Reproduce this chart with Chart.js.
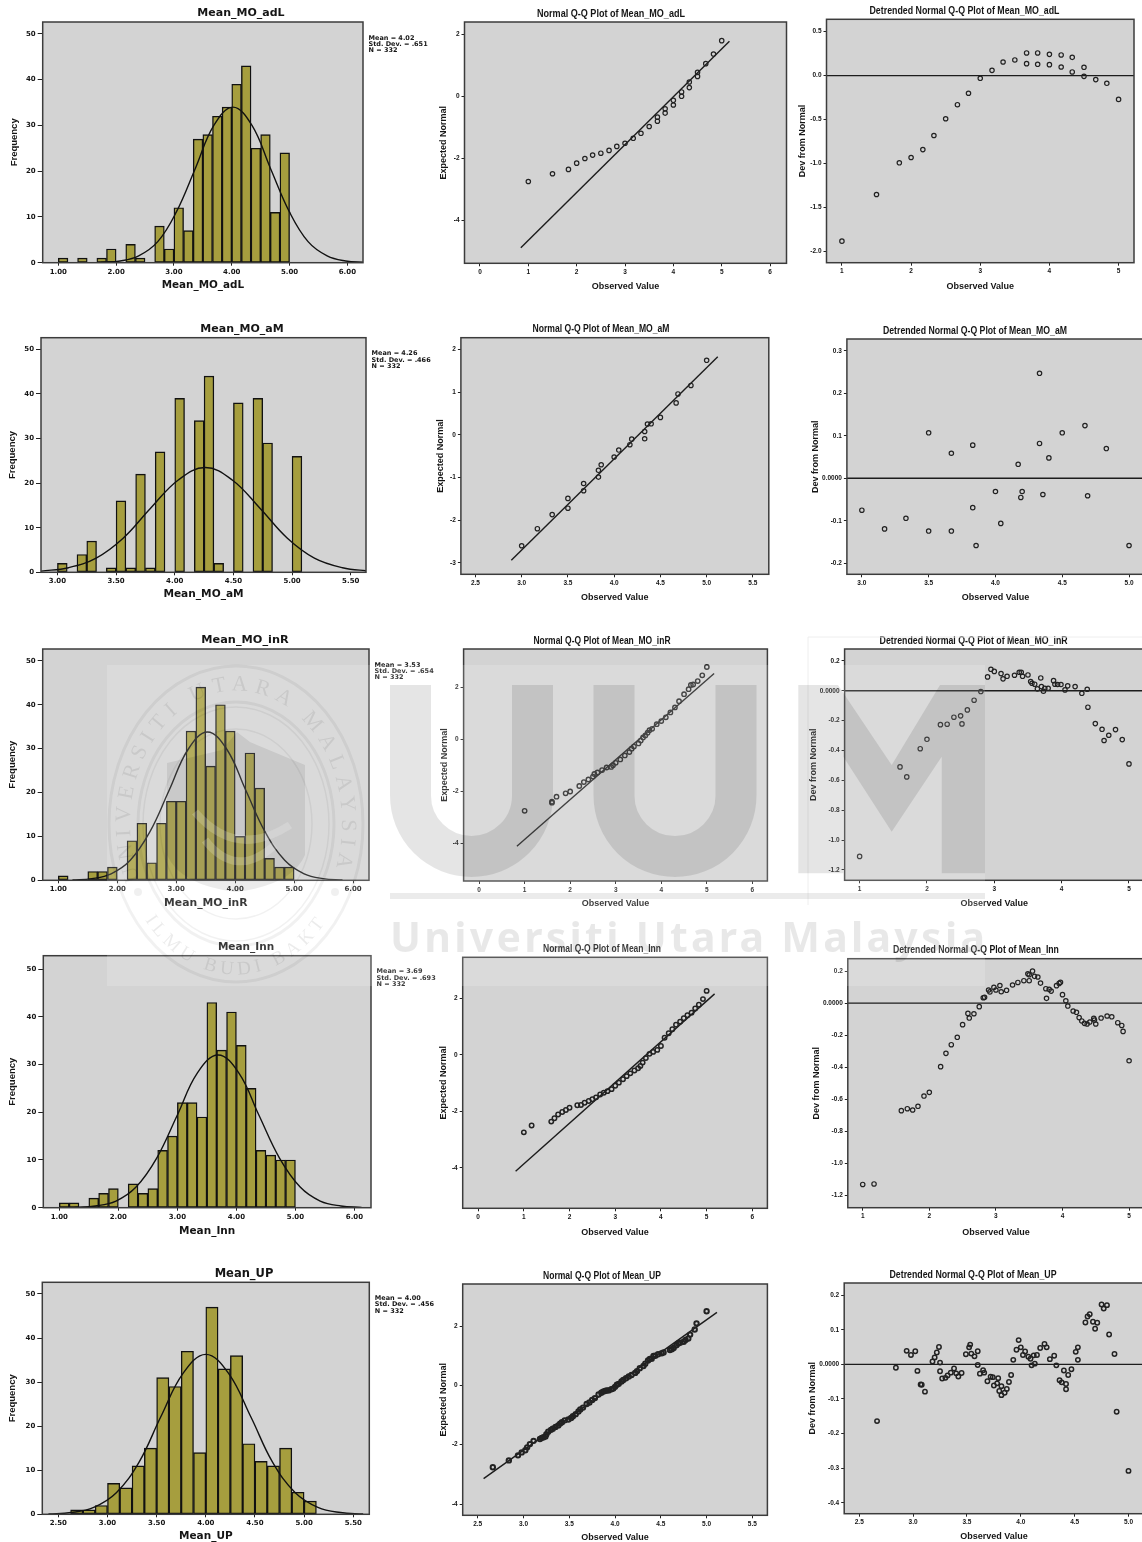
<!DOCTYPE html>
<html>
<head>
<meta charset="utf-8">
<title>Normality plots</title>
<script src="https://cdn.jsdelivr.net/npm/chart.js@4"></script>
<style>
html, body { margin: 0; padding: 0; background: #fff; overflow: hidden; }
#page { position: relative; width: 1142px; height: 1542px; overflow: hidden; }
#page canvas { position: absolute; filter: blur(0.5px); }
#mark { position: absolute; left: 0; top: 0; pointer-events: none; }
</style>
</head>
<body>
<div id="page">
<svg id="mark" width="1142" height="1542" xmlns="http://www.w3.org/2000/svg">
  <rect x="107" y="665" width="878" height="321" fill="rgba(255,255,255,0.16)"/>
  <path d="M808 905V637H1142" fill="none" stroke="#eee" stroke-width="1"/>
  <g fill="none" stroke="rgba(0,0,0,0.055)">
    <ellipse cx="236" cy="824" rx="127" ry="158" stroke-width="3"/>
    <ellipse cx="236" cy="824" rx="98" ry="122" stroke-width="3"/>
    <ellipse cx="236" cy="824" rx="93" ry="117" stroke-width="1.5"/>
    <ellipse cx="236" cy="824" rx="76" ry="95" stroke-width="1.5"/>
  </g>
  <circle cx="138" cy="892" r="4" fill="rgba(0,0,0,0.06)"/>
  <circle cx="335" cy="892" r="4" fill="rgba(0,0,0,0.06)"/>
  <path d="M167 763L222 750L237 732L250 742L305 765V855Q292 885 236 892Q180 885 167 855Z" fill="rgba(0,0,0,0.08)"/>
  <path d="M195 812Q236 860 290 825M205 840Q236 880 275 845" fill="none" stroke="rgba(255,255,255,0.18)" stroke-width="8"/>
  <defs>
    <path id="sealTop" d="M140 880A106 133 0 1 1 332 880"/>
    <path id="sealBottom" d="M145 920A118 150 0 0 0 327 920"/>
  </defs>
  <text font-family="Liberation Serif" font-size="22" fill="rgba(0,0,0,0.08)">
    <textPath href="#sealTop" textLength="478" lengthAdjust="spacing">UNIVERSITI UTARA MALAYSIA</textPath>
  </text>
  <text font-family="Liberation Serif" font-size="19" fill="rgba(0,0,0,0.08)">
    <textPath href="#sealBottom" textLength="228" lengthAdjust="spacing">ILMU BUDI BAKTI</textPath>
  </text>
  <g fill="none" stroke="rgba(0,0,0,0.1)" stroke-width="41">
    <path d="M410.5 685V795.5A61 61 0 0 0 532.5 795.5V685"/>
    <path d="M614 685V795.5A61 61 0 0 0 736 795.5V685"/>
  </g>
  <path d="M798.3 685H838L891.7 765L940 685H985V873.3H941.7V756.7L891.7 831.7L843.3 756.7V873.3H798.3Z" fill="rgba(0,0,0,0.1)"/>
  <rect x="390" y="893" width="595" height="6" fill="rgba(0,0,0,0.08)"/>
  <text x="390" y="952" font-family="Noto Sans" font-weight="700" font-size="41" textLength="595" lengthAdjust="spacing" fill="rgba(0,0,0,0.09)">Universiti Utara Malaysia</text>
</svg>
</div>
<script>
// bin centres and counts
const sixthBins = [1.0833,1.25,1.4167,1.5833,1.75,1.9167,2.0833,2.25,2.4167,2.5833,2.75,2.9167,3.0833,3.25,3.4167,3.5833,3.75,3.9167,4.0833,4.25,4.4167,4.5833,4.75,4.9167];
const amBins = [3.0417,3.125,3.2083,3.2917,3.375,3.4583,3.5417,3.625,3.7083,3.7917,3.875,3.9583,4.0417,4.125,4.2083,4.2917,4.375,4.4583,4.5417,4.625,4.7083,4.7917,4.875,4.9583,5.0417];
const upBins = [2.6875,2.8125,2.9375,3.0625,3.1875,3.3125,3.4375,3.5625,3.6875,3.8125,3.9375,4.0625,4.1875,4.3125,4.4375,4.5625,4.6875,4.8125,4.9375,5.0625];

const adlCounts = [1,0,1,0,1,3,0,4,1,0,8,3,12,7,27,28,32,34,39,43,25,28,11,24];
const amCounts = [2,0,4,7,0,1,16,1,22,1,27,0,39,0,34,44,2,0,38,0,39,29,0,0,26];
const inrCounts = [1,0,0,2,2,3,0,9,13,4,13,18,18,34,44,26,40,34,10,29,21,5,3,3];
const innCounts = [1,1,0,2,3,4,0,5,3,4,12,15,22,22,19,43,33,41,34,25,12,11,10,10];
const upCounts = [1,1,2,7,6,11,15,31,29,37,14,47,33,36,16,12,11,15,5,3];

// fitted curves, read at spaced points
const adlCurveX = [1.74,2.07,2.39,2.72,3.04,3.37,3.69,4.02,4.35,4.67,5.0,5.32,5.65,5.97,6.3];
const adlCurveY = [0.07,0.38,1.49,4.6,11.04,20.6,30,34,30,20.6,11.04,4.6,1.49,0.38,0.07];
const amCurveX = [2.86,3.095,3.33,3.56,3.79,4.03,4.26,4.49,4.73,4.96,5.19,5.43,5.66];
const amCurveY = [0.26,1.03,3.18,7.64,14.25,20.7,23.5,20.7,14.25,7.64,3.18,1.03,0.26];
const inrCurveX = [1.24,1.57,1.895,2.22,2.55,2.88,3.2,3.53,3.86,4.18,4.51,4.84,5.17,5.49,5.82];
const inrCurveY = [0.07,0.38,1.48,4.57,10.97,20.5,29.8,33.8,29.8,20.5,10.97,4.57,1.48,0.38,0.07];
const innCurveX = [1.26,1.61,1.96,2.3,2.65,3.0,3.34,3.69,4.04,4.38,4.73,5.08,5.42,5.77,6.12];
const innCurveY = [0.07,0.36,1.4,4.33,10.39,19.41,28.24,32,28.24,19.41,10.39,4.33,1.4,0.36,0.07];
const upCurveX = [2.4,2.63,2.86,3.09,3.32,3.54,3.77,4,4.23,4.46,4.68,4.91,5.14,5.37,5.6];
const upCurveY = [0.08,0.4,1.59,4.91,11.79,22.02,32.03,36.3,32.03,22.02,11.79,4.91,1.59,0.4,0.08];

// normal Q-Q points and reference lines
const adlQqX = [1,1.5,1.83,2,2.17,2.33,2.5,2.67,2.83,3,3.17,3.33,3.5,3.67,3.67,3.83,3.83,4,4,4.17,4.17,4.33,4.33,4.5,4.5,4.67,4.83,5];
const adlQqY = [-2.74,-2.49,-2.35,-2.15,-2,-1.89,-1.83,-1.74,-1.61,-1.51,-1.35,-1.19,-0.97,-0.67,-0.8,-0.4,-0.54,-0.13,-0.28,0.14,0,0.46,0.28,0.77,0.64,1.05,1.36,1.79];
const adlLineX = [0.845,5.16];
const adlLineY = [-4.87,1.77];

const amQqX = [3,3.17,3.33,3.5,3.5,3.67,3.67,3.83,3.83,3.86,4,4.05,4.17,4.19,4.33,4.33,4.36,4.4,4.5,4.67,4.69,4.83,5];
const amQqY = [-2.6,-2.2,-1.87,-1.72,-1.49,-1.31,-1.14,-0.99,-0.83,-0.7,-0.52,-0.355,-0.23,-0.1,-0.09,0.08,0.255,0.26,0.41,0.75,0.96,1.16,1.75];
const amLineX = [2.888,5.12];
const amLineY = [-2.94,1.835];

const inrQqX = [1,1.6,1.6,1.7,1.9,2,2.2,2.3,2.4,2.5,2.53,2.6,2.7,2.8,2.9,2.94,3,3.1,3.2,3.3,3.35,3.4,3.5,3.55,3.6,3.65,3.7,3.74,3.8,3.9,4,4.1,4.2,4.3,4.39,4.5,4.6,4.65,4.7,4.8,4.9,5];
const inrQqY = [-2.74,-2.43,-2.39,-2.2,-2.07,-2,-1.79,-1.64,-1.54,-1.43,-1.33,-1.27,-1.18,-1.08,-1.06,-0.99,-0.9,-0.77,-0.62,-0.49,-0.36,-0.28,-0.16,-0.05,0.07,0.15,0.25,0.35,0.4,0.58,0.7,0.84,1.03,1.22,1.46,1.73,1.92,2.08,2.1,2.23,2.45,2.77];
const inrLineX = [0.83,5.16];
const inrLineY = [-4.1,2.52];

const innQqX = [1,1.17,1.6,1.67,1.75,1.84,1.92,2,2.17,2.25,2.33,2.42,2.5,2.58,2.67,2.75,2.83,2.92,3,3.08,3.17,3.25,3.33,3.42,3.5,3.55,3.6,3.67,3.75,3.83,3.92,4,4.08,4.17,4.25,4.33,4.42,4.5,4.58,4.67,4.75,4.83,4.92,5];
const innQqY = [-2.74,-2.5,-2.36,-2.24,-2.11,-2.02,-1.95,-1.87,-1.78,-1.77,-1.69,-1.63,-1.57,-1.5,-1.4,-1.34,-1.28,-1.21,-1.09,-0.98,-0.86,-0.75,-0.65,-0.55,-0.47,-0.39,-0.27,-0.11,0.04,0.11,0.18,0.32,0.61,0.77,0.91,1.07,1.18,1.3,1.41,1.5,1.65,1.78,1.98,2.27];
const innLineX = [0.82,5.175];
const innLineY = [-4.12,2.165];

const upQqX = [2.665,2.84,2.94,2.98,3.02,3.04,3.07,3.11,3.18,3.2,3.22,3.24,3.25,3.27,3.3,3.32,3.35,3.38,3.4,3.42,3.45,3.49,3.52,3.54,3.57,3.6,3.62,3.65,3.69,3.72,3.75,3.78,3.82,3.85,3.87,3.89,3.91,3.93,3.96,3.98,4,4.02,4.04,4.07,4.09,4.12,4.15,4.18,4.22,4.24,4.27,4.31,4.33,4.36,4.38,4.4,4.42,4.44,4.47,4.51,4.53,4.6,4.62,4.64,4.67,4.69,4.71,4.75,4.77,4.8,4.82,4.87,4.89,5];
const upQqY = [-2.76,-2.53,-2.36,-2.26,-2.19,-2.09,-1.98,-1.87,-1.81,-1.77,-1.75,-1.72,-1.65,-1.56,-1.5,-1.46,-1.4,-1.35,-1.29,-1.24,-1.18,-1.15,-1.1,-1.04,-0.97,-0.88,-0.81,-0.75,-0.63,-0.58,-0.49,-0.43,-0.31,-0.25,-0.21,-0.19,-0.17,-0.17,-0.13,-0.11,-0.05,0.02,0.05,0.13,0.18,0.24,0.3,0.35,0.42,0.48,0.58,0.65,0.73,0.84,0.89,0.9,0.99,1,1.05,1.08,1.11,1.19,1.22,1.26,1.35,1.41,1.44,1.47,1.53,1.58,1.71,1.88,2.09,2.5];
const upLineX = [2.564,5.113];
const upLineY = [-3.146,2.46];

// detrended Q-Q points
const adlDtX = [1,1.5,1.83,2,2.17,2.33,2.5,2.67,2.83,3,3.17,3.33,3.5,3.67,3.67,3.83,3.83,4,4,4.17,4.17,4.33,4.33,4.5,4.5,4.67,4.83,5];
const adlDtY = [-1.88,-1.35,-0.99,-0.93,-0.84,-0.68,-0.49,-0.33,-0.2,-0.03,0.06,0.155,0.178,0.258,0.136,0.258,0.129,0.242,0.125,0.235,0.098,0.208,0.042,0.095,-0.008,-0.045,-0.087,-0.27];

const amDtX = [3,3.17,3.33,3.5,3.5,3.67,3.67,3.83,3.83,3.855,4,4.04,4.17,4.19,4.2,4.33,4.33,4.355,4.4,4.5,4.67,4.69,4.83,5];
const amDtY = [-0.075,-0.119,-0.094,-0.124,0.107,-0.124,0.059,-0.069,0.078,-0.158,-0.031,-0.106,0.033,-0.045,-0.031,0.082,0.247,-0.038,0.048,0.107,0.124,-0.041,0.07,-0.158];

const inrDtX = [1,1.6,1.7,1.9,2,2.2,2.3,2.4,2.5,2.52,2.6,2.7,2.8,2.9,2.95,3,3.1,3.13,3.19,3.3,3.37,3.4,3.42,3.5,3.54,3.56,3.6,3.64,3.69,3.7,3.73,3.75,3.8,3.88,3.9,3.94,3.99,4.05,4.09,4.2,4.3,4.38,4.39,4.5,4.6,4.63,4.7,4.8,4.9,5];
const inrDtY = [-1.11,-0.51,-0.577,-0.388,-0.325,-0.227,-0.224,-0.177,-0.168,-0.222,-0.128,-0.063,-0.005,0.093,0.144,0.13,0.115,0.08,0.097,0.104,0.124,0.124,0.097,0.106,0.062,0.05,0.044,0.013,0.086,0.028,-0.003,0.017,0.017,0.068,0.044,0.042,0.042,0.006,0.033,0.028,-0.017,0.01,-0.11,-0.22,-0.258,-0.333,-0.298,-0.26,-0.327,-0.49];

const innDtX = [1,1.17,1.58,1.67,1.75,1.83,1.92,2,2.17,2.25,2.33,2.42,2.5,2.58,2.6,2.67,2.75,2.81,2.83,2.89,2.91,2.97,3,3.06,3.08,3.16,3.25,3.33,3.42,3.5,3.48,3.55,3.5,3.58,3.63,3.67,3.75,3.76,3.8,3.83,3.91,3.95,3.97,4,4.05,4.08,4.16,4.21,4.25,4.29,4.33,4.37,4.41,4.47,4.48,4.5,4.58,4.67,4.74,4.83,4.89,4.91,5];
const innDtY = [-1.13,-1.127,-0.67,-0.658,-0.666,-0.643,-0.579,-0.556,-0.396,-0.313,-0.259,-0.213,-0.134,-0.064,-0.093,-0.066,-0.022,0.034,0.036,0.082,0.07,0.098,0.082,0.11,0.071,0.08,0.113,0.129,0.14,0.14,0.183,0.2,0.177,0.167,0.163,0.125,0.09,0.03,0.086,0.075,0.109,0.123,0.13,0.053,0.015,-0.018,-0.049,-0.057,-0.09,-0.111,-0.126,-0.13,-0.118,-0.095,-0.105,-0.13,-0.093,-0.08,-0.085,-0.122,-0.139,-0.176,-0.359];

const upDtX = [2.665,2.84,2.94,2.98,3.02,3.04,3.07,3.08,3.11,3.18,3.2,3.22,3.24,3.25,3.25,3.27,3.3,3.32,3.35,3.38,3.4,3.42,3.45,3.49,3.52,3.53,3.54,3.57,3.6,3.6,3.62,3.65,3.66,3.69,3.72,3.74,3.75,3.78,3.79,3.8,3.82,3.82,3.85,3.87,3.89,3.91,3.93,3.96,3.98,4,4.02,4.04,4.07,4.09,4.1,4.12,4.13,4.15,4.18,4.22,4.24,4.27,4.31,4.33,4.36,4.38,4.4,4.42,4.42,4.44,4.47,4.51,4.53,4.53,4.6,4.62,4.64,4.67,4.69,4.71,4.75,4.77,4.8,4.82,4.87,4.89,5];
const upDtY = [-0.164,-0.01,0.039,0.027,0.038,-0.019,-0.058,-0.059,-0.079,0.008,0.02,0.034,0.05,0.005,-0.02,-0.041,-0.039,-0.032,-0.024,-0.012,-0.026,-0.035,-0.025,0.029,0.049,0.057,0.031,0.023,0.038,-0.002,-0.027,-0.017,-0.024,-0.049,-0.036,-0.037,-0.061,-0.055,-0.04,-0.077,-0.089,-0.063,-0.082,-0.071,-0.051,-0.031,0.013,0.042,0.07,0.049,0.027,0.037,0.022,0.016,-0.003,0.026,0.002,0.027,0.047,0.059,0.049,0.015,0.025,-0.003,-0.046,-0.052,-0.018,-0.072,-0.057,-0.031,-0.014,0.036,0.049,0.013,0.121,0.138,0.145,0.123,0.103,0.12,0.173,0.161,0.171,0.086,0.03,-0.137,-0.308];

// tick labels
const freqTicks = [0,10,20,30,40,50];
const oneToSix = [1,2,3,4,5,6];
const halfTicks = [3,3.5,4,4.5,5,5.5];
const upHistTicks = [2.5,3,3.5,4,4.5,5,5.5];
const zeroToSix = [0,1,2,3,4,5,6];
const halfQqTicks = [2.5,3,3.5,4,4.5,5,5.5];
const oneToFive = [1,2,3,4,5];
const amDtXTicks = [3,3.5,4,4.5,5];
const upDtXTicks = [2.5,3,3.5,4,4.5,5];

const WIDE = 'DejaVu Sans';
const PLAIN = 'Liberation Sans';
const INK = '#151515';

// paints the grey plot panel, its frame and the stats note
const panelPlugin = {
    id: 'panel',
    beforeDraw(chart) {
        const a = chart.chartArea, ctx = chart.ctx;
        ctx.save();
        ctx.fillStyle = '#d3d3d3';
        ctx.fillRect(a.left, a.top, a.right - a.left, a.bottom - a.top);
        ctx.restore();
    },
    afterLayout(chart) {
        // titles in these plots are not centred over the panel; the box width also squeezes the text
        const opt = chart.options.plugins.panel;
        const t = chart.titleBlock;
        t.left = opt.titleCx - opt.titleW / 2;
        t.right = opt.titleCx + opt.titleW / 2;
    },
    afterDraw(chart, args, opt) {
        const a = chart.chartArea, ctx = chart.ctx;
        ctx.save();
        ctx.strokeStyle = '#3c3c3c';
        ctx.lineWidth = 1.5;
        ctx.strokeRect(a.left, a.top, a.right - a.left, a.bottom - a.top);
        if (opt.stats) {
            ctx.fillStyle = INK;
            ctx.font = 'bold 6.5px "DejaVu Sans"';
            ctx.textBaseline = 'middle';
            opt.stats.forEach((line, i) => ctx.fillText(line, a.right + 5.5, a.top + 16 + i * 6.4));
        }
        ctx.restore();
    }
};

function makeScale(min, max, tickValues, format, title, titleFont, tickFont, tickLen, fixedSize, isX) {
    const scale = {
        type: 'linear',
        min: min,
        max: max,
        bounds: 'data',
        offset: false,
        title: { display: true, text: title, color: INK, font: titleFont, padding: 0 },
        border: { display: false },
        grid: { display: true, offset: false, drawOnChartArea: false, drawTicks: true, tickLength: tickLen, tickColor: '#222', tickWidth: 1 },
        ticks: { color: INK, font: tickFont, padding: 2, autoSkip: false, maxRotation: 0, minRotation: 0, callback: format },
        afterBuildTicks(s) { s.ticks = tickValues.map(v => ({ value: v })); }
    };
    if (isX) {
        scale.afterFit = s => { s.height = fixedSize; };
    } else {
        scale.afterFit = s => { s.width = fixedSize; };
    }
    return scale;
}

// g: plot box l,t,r,b plus title centre and width, y-title x, gap from plot bottom to x-title middle
function addChart(g, datasets, chartType, xAxis, yAxis, title, titleFont, stats) {
    const x0 = Math.round(g.yTitleX - 5);
    const y0 = Math.round(g.t - 24);
    const right = Math.max(g.r, g.titleCx + 110) + 8;
    const cw = Math.ceil((stats ? Math.max(right, g.r + 75) : right) - x0);
    const bottomSpace = g.gap + 6;
    const ch = Math.ceil(g.b - y0 + bottomSpace);

    const canvas = document.createElement('canvas');
    canvas.style.left = x0 + 'px';
    canvas.style.top = y0 + 'px';
    canvas.style.width = cw + 'px';
    canvas.style.height = ch + 'px';
    canvas.width = cw;
    canvas.height = ch;
    document.getElementById('page').appendChild(canvas);

    const titleSize = titleFont.size;
    new Chart(canvas.getContext('2d'), {
        type: chartType,
        data: { datasets: datasets },
        plugins: [panelPlugin],
        options: {
            responsive: false,
            animation: false,
            layout: {
                padding: {
                    left: 0,
                    top: g.t - y0 - titleSize - 3,
                    right: cw - (g.r - x0),
                    bottom: ch - (g.b - y0) - bottomSpace
                }
            },
            plugins: {
                legend: { display: false },
                tooltip: { enabled: false },
                title: { display: true, text: title, color: INK, font: titleFont, padding: { top: 0, bottom: 3 } },
                panel: { stats: stats, titleCx: g.titleCx - x0, titleW: g.titleW }
            },
            scales: {
                x: makeScale(xAxis.min, xAxis.max, xAxis.ticks, xAxis.format, xAxis.title, xAxis.titleFont, xAxis.tickFont, xAxis.tickLen, bottomSpace, true),
                y: makeScale(yAxis.min, yAxis.max, yAxis.ticks, yAxis.format, yAxis.title, yAxis.titleFont, yAxis.tickFont, yAxis.tickLen, g.l - x0, false)
            }
        }
    });
}

function pairs(xs, ys) {
    return xs.map((x, i) => ({ x: x, y: ys[i] }));
}

function drawHist(name, g, bins, counts, curveX, curveY, range, xTicks, stats) {
    const titleFont = { family: WIDE, size: g.titleSize, weight: 'bold', lineHeight: 1 };
    const axisFont = { family: WIDE, size: g.axisSize, weight: 'bold', lineHeight: 1 };
    const datasets = [
        {
            type: 'line',
            data: pairs(curveX, curveY),
            borderColor: '#111',
            borderWidth: 1.4,
            pointRadius: 0,
            tension: 0.4,
            order: 0
        },
        {
            type: 'bar',
            data: bins.map((b, i) => ({ x: b, y: counts[i] || null })),
            backgroundColor: '#a69e3e',
            borderColor: '#111',
            borderWidth: 1.4,
            borderSkipped: false,
            barPercentage: 1,
            categoryPercentage: 1,
            order: 1
        }
    ];
    const tickFont = { family: WIDE, size: 7, weight: 'bold' };
    addChart(g, datasets, 'bar',
        { min: range[0], max: range[1], ticks: xTicks, format: v => Number(v).toFixed(2), title: name, titleFont: axisFont, tickFont: tickFont, tickLen: 3 },
        { min: 0, max: range[2], ticks: freqTicks, format: v => String(v), title: 'Frequency', titleFont: { family: PLAIN, size: 9.5, weight: 'bold', lineHeight: 1 }, tickFont: tickFont, tickLen: 5 },
        name, titleFont, stats);
}

function drawQq(title, g, xs, ys, lineX, lineY, range, xTicks, yTicks, xFormat, yTitle, yFormat) {
    const datasets = [
        {
            data: pairs(lineX, lineY),
            showLine: true,
            borderColor: '#1c1c1c',
            borderWidth: 1.4,
            pointRadius: 0,
            order: 1
        },
        {
            data: pairs(xs, ys),
            showLine: false,
            pointRadius: 2.2,
            pointBorderWidth: g.pointW || 1.2,
            pointBorderColor: '#222',
            pointBackgroundColor: 'rgba(0,0,0,0)',
            order: 0
        }
    ];
    const tickFont = { family: PLAIN, size: 6.5, weight: 'bold' };
    addChart(g, datasets, 'scatter',
        { min: range[0], max: range[1], ticks: xTicks, format: xFormat, title: 'Observed Value', titleFont: { family: PLAIN, size: 9, weight: 'bold', lineHeight: 1 }, tickFont: tickFont, tickLen: 3 },
        { min: range[2], max: range[3], ticks: yTicks, format: yFormat, title: yTitle, titleFont: { family: PLAIN, size: 9, weight: 'bold', lineHeight: 1 }, tickFont: tickFont, tickLen: 3 },
        title, { family: PLAIN, size: 11, weight: 'bold', lineHeight: 1 }, null);
}

const asInt = v => String(v);
const oneDec = v => Number(v).toFixed(1);
const devFormat = v => (v === 0 ? '0.0000' : Number(v).toFixed(1));

// histograms
drawHist('Mean_MO_adL', { l: 42.7, t: 22, r: 363, b: 262.7, titleCx: 241, titleW: 200, titleSize: 11, axisSize: 10.4, yTitleX: 14.5, gap: 22 }, sixthBins, adlCounts, adlCurveX, adlCurveY, [0.73, 6.27, 52.6], oneToSix, ['Mean = 4.02', 'Std. Dev. = .651', 'N = 332']);
drawHist('Mean_MO_aM', { l: 41, t: 337.7, r: 366, b: 572.3, titleCx: 242, titleW: 200, titleSize: 11, axisSize: 10.6, yTitleX: 12.7, gap: 21 }, amBins, amCounts, amCurveX, amCurveY, [2.86, 5.63, 52.6], halfTicks, ['Mean = 4.26', 'Std. Dev. = .466', 'N = 332']);
drawHist('Mean_MO_inR', { l: 42.7, t: 649, r: 369, b: 880.3, titleCx: 245, titleW: 200, titleSize: 11.3, axisSize: 10.8, yTitleX: 13, gap: 22 }, sixthBins, inrCounts, inrCurveX, inrCurveY, [0.735, 6.27, 52.7], oneToSix, ['Mean = 3.53', 'Std. Dev. = .654', 'N = 332']);
drawHist('Mean_Inn', { l: 43.3, t: 955.7, r: 371, b: 1207.7, titleCx: 246, titleW: 200, titleSize: 10.5, axisSize: 10.5, yTitleX: 13, gap: 23 }, sixthBins, innCounts, innCurveX, innCurveY, [0.729, 6.28, 52.8], oneToSix, ['Mean = 3.69', 'Std. Dev. = .693', 'N = 332']);
drawHist('Mean_UP', { l: 42.3, t: 1282.3, r: 369.3, b: 1514.3, titleCx: 244, titleW: 200, titleSize: 11.5, axisSize: 10.5, yTitleX: 13, gap: 21 }, upBins, upCounts, upCurveX, upCurveY, [2.337, 5.663, 52.65], upHistTicks, ['Mean = 4.00', 'Std. Dev. = .456', 'N = 332']);

// normal Q-Q plots
drawQq('Normal Q-Q Plot of Mean_MO_adL', { l: 464.5, t: 22, r: 786.5, b: 263.3, titleCx: 611, titleW: 148, yTitleX: 443.6, gap: 22 }, adlQqX, adlQqY, adlLineX, adlLineY, [-0.32, 6.34, -5.37, 2.39], zeroToSix, [-4, -2, 0, 2], asInt, 'Expected Normal', asInt);
drawQq('Normal Q-Q Plot of Mean_MO_aM', { l: 460.9, t: 337.7, r: 768.8, b: 574.3, titleCx: 601, titleW: 137, yTitleX: 441.4, gap: 22 }, amQqX, amQqY, amLineX, amLineY, [2.343, 5.672, -3.27, 2.28], halfQqTicks, [-3, -2, -1, 0, 1, 2], oneDec, 'Expected Normal', asInt);
drawQq('Normal Q-Q Plot of Mean_MO_inR', { l: 463.6, t: 649, r: 767.4, b: 881, titleCx: 602, titleW: 137, yTitleX: 445, gap: 21, pointW: 1.4 }, inrQqX, inrQqY, inrLineX, inrLineY, [-0.34, 6.33, -5.43, 3.46], zeroToSix, [-4, -2, 0, 2], asInt, 'Expected Normal', asInt);
drawQq('Normal Q-Q Plot of Mean_Inn', { l: 462.7, t: 957.3, r: 767.4, b: 1208.3, titleCx: 602, titleW: 118, yTitleX: 444, gap: 23, pointW: 1.5 }, innQqX, innQqY, innLineX, innLineY, [-0.338, 6.33, -5.43, 3.46], zeroToSix, [-4, -2, 0, 2], asInt, 'Expected Normal', asInt);
drawQq('Normal Q-Q Plot of Mean_UP', { l: 462.7, t: 1284, r: 767.4, b: 1515.3, titleCx: 602, titleW: 118, yTitleX: 444, gap: 21, pointW: 2 }, upQqX, upQqY, upLineX, upLineY, [2.336, 5.664, -4.38, 3.416], halfQqTicks, [-4, -2, 0, 2], oneDec, 'Expected Normal', asInt);

// detrended Q-Q plots; the reference line is the zero level
const zeroLineY = [0, 0];
drawQq('Detrended Normal Q-Q Plot of Mean_MO_adL', { l: 826.5, t: 19.3, r: 1134, b: 262.7, titleCx: 964.5, titleW: 190, yTitleX: 803, gap: 22 }, adlDtX, adlDtY, [0.777, 5.223], zeroLineY, [0.777, 5.223, -2.125, 0.64], oneToFive, [-2, -1.5, -1, -0.5, 0, 0.5], asInt, 'Dev from Normal', oneDec);
drawQq('Detrended Normal Q-Q Plot of Mean_MO_aM', { l: 846.9, t: 339, r: 1144, b: 574.3, titleCx: 975, titleW: 184, yTitleX: 816, gap: 22 }, amDtX, amDtY, [2.888, 5.112], zeroLineY, [2.888, 5.112, -0.2257, 0.3276], amDtXTicks, [-0.2, -0.1, 0, 0.1, 0.2, 0.3], oneDec, 'Dev from Normal', devFormat);
drawQq('Detrended Normal Q-Q Plot of Mean_MO_inR', { l: 844.6, t: 649, r: 1144, b: 880.3, titleCx: 973.6, titleW: 188, yTitleX: 814, gap: 22 }, inrDtX, inrDtY, [0.777, 5.223], zeroLineY, [0.777, 5.223, -1.27, 0.28], oneToFive, [-1.2, -1, -0.8, -0.6, -0.4, -0.2, 0, 0.2], asInt, 'Dev from Normal', devFormat);
drawQq('Detrended Normal Q-Q Plot of Mean_Inn', { l: 847.8, t: 958.7, r: 1144, b: 1207.7, titleCx: 975.9, titleW: 166, yTitleX: 816.5, gap: 23 }, innDtX, innDtY, [0.776, 5.224], zeroLineY, [0.776, 5.224, -1.275, 0.277], oneToFive, [-1.2, -1, -0.8, -0.6, -0.4, -0.2, 0, 0.2], asInt, 'Dev from Normal', devFormat);
drawQq('Detrended Normal Q-Q Plot of Mean_UP', { l: 844.2, t: 1283, r: 1144, b: 1513.7, titleCx: 973, titleW: 167, yTitleX: 813, gap: 21, pointW: 1.5 }, upDtX, upDtY, [2.36, 5.144], zeroLineY, [2.36, 5.144, -0.4316, 0.235], upDtXTicks, [-0.4, -0.3, -0.2, -0.1, 0, 0.1, 0.2], oneDec, 'Dev from Normal', devFormat);

// watermark sits above the charts
document.getElementById('page').appendChild(document.getElementById('mark'));
</script>
</body>
</html>
